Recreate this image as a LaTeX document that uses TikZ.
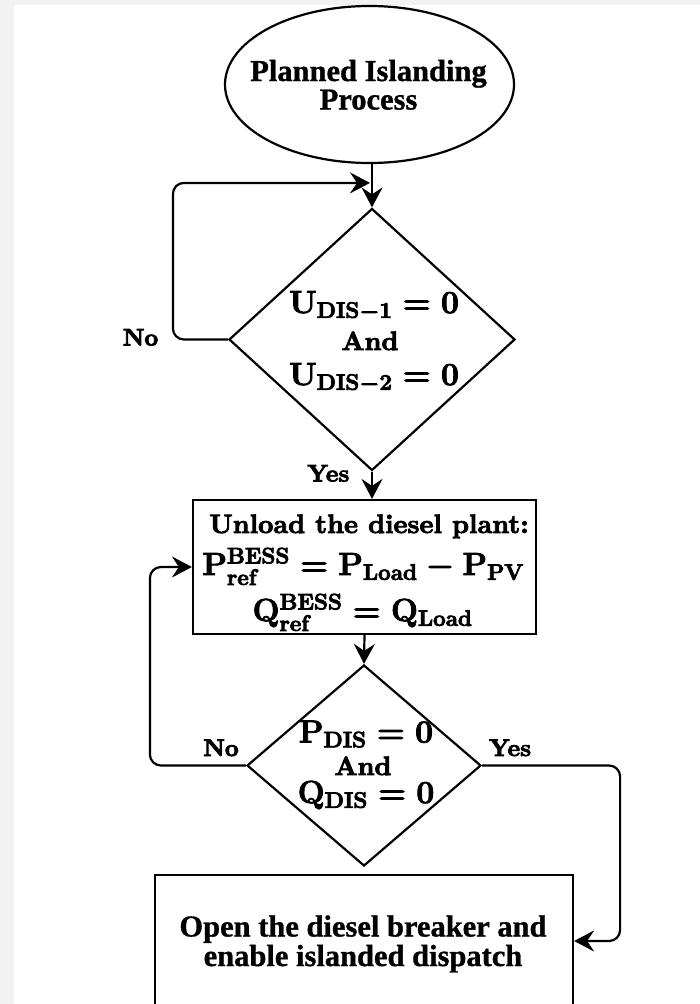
\RequirePackage{fix-cm}
\documentclass[tikz,border=0pt]{standalone}
\usepackage[no-math]{fontspec}
\newfontfamily\tnr{Liberation Serif}
\newfontfamily\lmb{lmroman10-bold.otf}
\usetikzlibrary{shapes.geometric,arrows.meta}
\definecolor{bggray}{HTML}{F2F2F2}
\newcommand\heavy[2]{\special{pdf:literal direct 2 Tr #1 w}#2\special{pdf:literal direct 0 Tr}}
\begin{document}
\begin{tikzpicture}[x=1pt,y=-1pt,
  shp/.style={draw=black, line width=2.2pt, inner sep=0pt, fill=white},
  conn/.style={draw=black, line width=2.2pt, rounded corners=11pt, -{Stealth[length=20pt,width=21pt,inset=7pt]}},
  ttl/.style={anchor=base, font=\tnr\bfseries\fontsize{30.5}{30}\selectfont},
  cmb/.style={anchor=base, font=\lmb\fontsize{26.5}{26}\selectfont},
  lbl/.style={anchor=base, font=\lmb\fontsize{24}{24}\selectfont},
  mth/.style={anchor=base, font=\fontsize{32}{32}\selectfont\boldmath}]
\fill[bggray] (0,0) rectangle (700,1004);
\fill[white] (14,5) rectangle (700,1004);
\useasboundingbox (0,0) rectangle (700,1004);

% shapes
\node[shp, ellipse, minimum width=289, minimum height=157] (start) at (369.5,84.5) {};
\node[shp, diamond, minimum width=286, minimum height=262] (d1) at (372,339.5) {};
\node[shp, rectangle, minimum width=343, minimum height=134] (b1) at (364.5,567) {};
\node[shp, diamond, minimum width=234, minimum height=201] (d2) at (364,765.5) {};
\node[shp, rectangle, minimum width=418, minimum height=132] (b2) at (364,941) {};

% texts
\node[ttl] (st1) at (368.5,81) {\heavy{0.3}{Planned Islanding}};
\node[ttl] (st2) at (368.5,109.5) {\heavy{0.3}{Process}};

\node[mth] (d1a) at (374,313) {\heavy{0.8}{$\mathbf{U_{DIS-1}=0}$}};
\node[cmb] (d1b) at (370,350) {\heavy{0.8}{And}};
\node[mth] (d1c) at (374,385) {\heavy{0.8}{$\mathbf{U_{DIS-2}=0}$}};

\node[cmb] (b1a) at (369,533) {\heavy{0.8}{Unload the diesel plant:}};
\node[mth] (b1b) at (363.3,575) {\heavy{0.8}{$\mathbf{P^{BESS}_{ref}=P_{Load}-P_{PV}}$}};
\node[mth] (b1c) at (362.5,621) {\heavy{0.8}{$\mathbf{Q^{BESS}_{ref}=Q_{Load}}$}};

\node[mth] (d2a) at (366,742.5) {\heavy{0.8}{$\mathbf{P_{DIS}=0}$}};
\node[cmb] (d2b) at (363,775) {\heavy{0.8}{And}};
\node[mth] (d2c) at (366,803) {\heavy{0.8}{$\mathbf{Q_{DIS}=0}$}};

\node[ttl] (b2a) at (363,936.5) {\heavy{0.3}{Open the diesel breaker and}};
\node[ttl] (b2b) at (363,966) {\heavy{0.3}{enable islanded dispatch}};

% labels
\node[lbl] (no1) at (140.5,345.5) {\heavy{0.8}{No}};
\node[lbl] (yes1) at (328.3,481.5) {\heavy{0.8}{Yes}};
\node[lbl] (no2) at (221,756) {\heavy{0.8}{No}};
\node[lbl] (yes2) at (510,756) {\heavy{0.8}{Yes}};

% connectors
\path (d1.north) ++(0,-24.5) coordinate (m1);
\draw[conn] (d1.north |- start.south) -- (d1.north);
\draw[conn, shorten >=2pt] (d1.west) -- ++(-55,0) |- (m1);
\draw[conn] (d1.south) -- (d1.south |- b1.north);
\draw[conn] (b1.south) -- (d2.north);
\draw[conn] (d2.west) -- ++(-96,0) |- (b1.west);
\draw[conn] (d2.east) -- ++(138,0) |- (b2.east);
\end{tikzpicture}
\end{document}
